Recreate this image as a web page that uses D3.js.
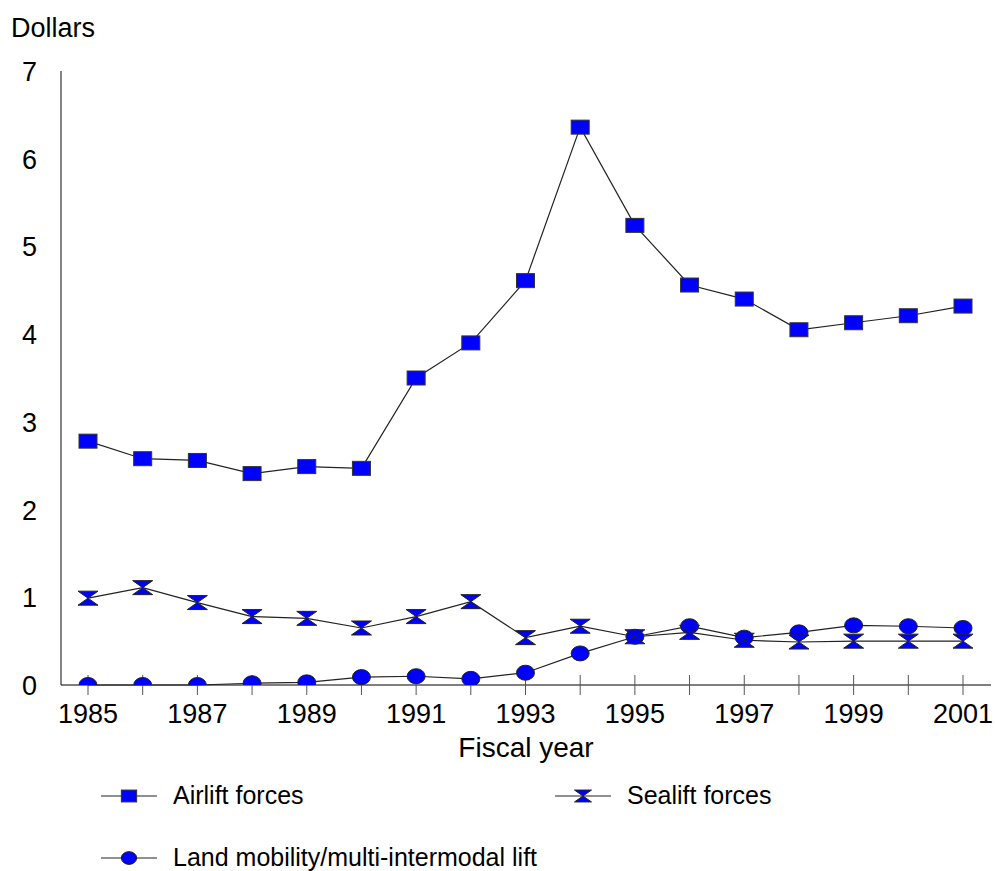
<!DOCTYPE html>
<html>
<head>
<meta charset="utf-8">
<script src="https://cdn.jsdelivr.net/npm/d3@7"></script>
<style>
  body { margin: 0; background: #fff; }
  text { font-family: "Liberation Sans", Arial, sans-serif; fill: #000; }
</style>
</head>
<body>
<div id="chart"></div>
<script>
// Fiscal years and values (dollars)
const years = [1985, 1986, 1987, 1988, 1989, 1990, 1991, 1992, 1993, 1994, 1995, 1996, 1997, 1998, 1999, 2000, 2001];
const airlift = [2.78, 2.58, 2.56, 2.41, 2.49, 2.47, 3.50, 3.90, 4.61, 6.36, 5.24, 4.56, 4.40, 4.05, 4.13, 4.21, 4.32];
const sealift = [0.99, 1.11, 0.94, 0.78, 0.76, 0.65, 0.78, 0.95, 0.54, 0.67, 0.55, 0.60, 0.51, 0.49, 0.50, 0.50, 0.50];
const land = [0.00, 0.00, 0.00, 0.02, 0.03, 0.09, 0.10, 0.07, 0.14, 0.36, 0.55, 0.67, 0.54, 0.60, 0.68, 0.67, 0.65];
const yTicks = [0, 1, 2, 3, 4, 5, 6, 7];
const xTickLabels = [1985, 1987, 1989, 1991, 1993, 1995, 1997, 1999, 2001];

const w = 995, h = 871;
const fill = "#0000ff";

const svg = d3.select("#chart")
    .append("svg")
    .attr("width", w)
    .attr("height", h);

// Scales
const xScale = d3.scaleLinear().domain([1985, 2001]).range([88, 963]);
const yScale = d3.scaleLinear().domain([0, 7]).range([685, 71]);

// markers get cut at the x axis, like in the original
svg.append("clipPath")
    .attr("id", "plot-clip")
    .append("rect")
    .attr("x", 61).attr("y", 0)
    .attr("width", 930).attr("height", yScale(0));

// Y axis line + labels
svg.append("line")
    .attr("x1", 61).attr("x2", 61)
    .attr("y1", yScale(7)).attr("y2", yScale(0))
    .attr("stroke", "#333").attr("stroke-width", 1.2);

svg.selectAll(".ylab")
    .data(yTicks)
    .enter()
    .append("text")
    .attr("class", "ylab")
    .attr("x", 37)
    .attr("y", d => yScale(d) + 10)
    .attr("text-anchor", "end")
    .style("font-size", "27px")
    .text(d => d);

// X axis line + ticks crossing it
svg.append("line")
    .attr("x1", 61).attr("x2", 991)
    .attr("y1", yScale(0)).attr("y2", yScale(0))
    .attr("stroke", "#000").attr("stroke-width", 1.2);

svg.selectAll(".xtick")
    .data(years)
    .enter()
    .append("line")
    .attr("class", "xtick")
    .attr("x1", d => xScale(d)).attr("x2", d => xScale(d))
    .attr("y1", yScale(0) - 10).attr("y2", yScale(0) + 10)
    .attr("stroke", "#555").attr("stroke-width", 1);

svg.selectAll(".xlab")
    .data(xTickLabels)
    .enter()
    .append("text")
    .attr("class", "xlab")
    .attr("x", d => xScale(d))
    .attr("y", 723)
    .attr("text-anchor", "middle")
    .style("font-size", "27px")
    .text(d => d);

// Axis titles
svg.append("text")
    .attr("x", 11).attr("y", 37)
    .style("font-size", "27px")
    .text("Dollars");

svg.append("text")
    .attr("x", 526).attr("y", 757)
    .attr("text-anchor", "middle")
    .style("font-size", "28px")
    .text("Fiscal year");

// Markers
const drawSquare = (g, x, y, s = 1) => {
    g.append("rect")
        .attr("x", x - 9 * s).attr("y", y - 7 * s)
        .attr("width", 18 * s).attr("height", 14 * s)
        .attr("fill", fill).attr("stroke", "#333").attr("stroke-width", 1);
};
const drawHourglass = (g, x, y, s = 1) => {
    g.append("path")
        .attr("d", `M${x - 10 * s},${y - 7 * s} L${x + 10 * s},${y - 7 * s} L${x - 10 * s},${y + 7 * s} L${x + 10 * s},${y + 7 * s} Z`)
        .attr("fill", fill).attr("stroke", "#222").attr("stroke-width", 1)
        .attr("stroke-linejoin", "miter");
};
const drawCircle = (g, x, y, s = 1) => {
    g.append("ellipse")
        .attr("cx", x).attr("cy", y)
        .attr("rx", 9 * s).attr("ry", 7.5 * s)
        .attr("fill", fill).attr("stroke", "#222").attr("stroke-width", 1);
};

const series = [
    { name: "Land mobility/multi-intermodal lift", values: land, marker: drawCircle },
    { name: "Sealift forces", values: sealift, marker: drawHourglass },
    { name: "Airlift forces", values: airlift, marker: drawSquare },
];

const lineGenerator = d3.line()
    .x((d, i) => xScale(years[i]))
    .y(d => yScale(d));

series.forEach(s => {
    svg.append("path")
        .datum(s.values)
        .attr("fill", "none")
        .attr("stroke", "#222")
        .attr("stroke-width", 1.2)
        .attr("d", lineGenerator);
});

series.forEach(s => {
    const g = svg.append("g").attr("clip-path", "url(#plot-clip)");
    s.values.forEach((v, i) => s.marker(g, xScale(years[i]), yScale(v)));
});

// Legend
const legendItems = [
    { name: "Airlift forces", marker: drawSquare, x: 101, y: 796 },
    { name: "Sealift forces", marker: drawHourglass, x: 555, y: 796 },
    { name: "Land mobility/multi-intermodal lift", marker: drawCircle, x: 101, y: 858 },
];

legendItems.forEach(item => {
    const g = svg.append("g");
    g.append("line")
        .attr("x1", item.x).attr("x2", item.x + 56)
        .attr("y1", item.y).attr("y2", item.y)
        .attr("stroke", "#222").attr("stroke-width", 1.2);
    item.marker(g, item.x + 28, item.y, 0.85);
    g.append("text")
        .attr("x", item.x + 72)
        .attr("y", item.y + 8)
        .style("font-size", "25px")
        .text(item.name);
});
</script>
</body>
</html>
